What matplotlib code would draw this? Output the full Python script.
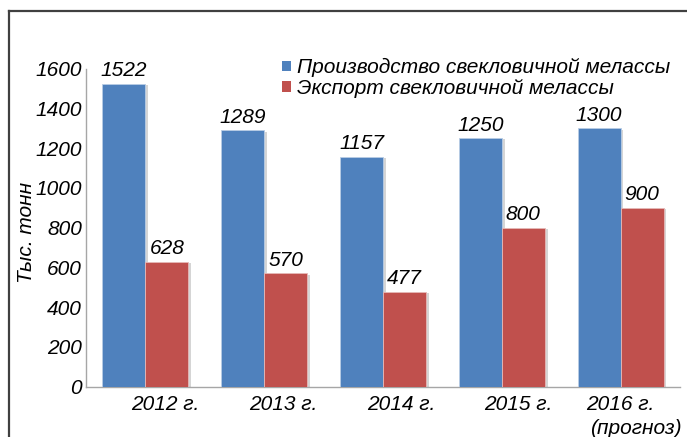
import matplotlib
matplotlib.use('Agg')
import matplotlib.pyplot as plt
import matplotlib.patheffects as pe
from matplotlib.lines import Line2D
from matplotlib.patches import Patch
import numpy as np

plt.rcParams['font.family'] = ['Liberation Sans', 'DejaVu Sans']
plt.rcParams['font.style'] = 'italic'

# data
years = ['2012 г.', '2013 г.', '2014 г.', '2015 г.', '2016 г.']
production = [1522, 1289, 1157, 1250, 1300]
export = [628, 570, 477, 800, 900]
series_names = ['Производство свекловичной мелассы',
                'Экспорт свекловичной мелассы']
y_ticks = [0, 200, 400, 600, 800, 1000, 1200, 1400, 1600]

blue = '#4F81BD'
red = '#C0504D'
fs = 15

fig = plt.figure(figsize=(6.87, 4.37), dpi=100)
ax = fig.add_axes([86 / 687, 1 - 386.7 / 437, 594 / 687, 318.2 / 437])

x = np.arange(len(years))
w = 0.362
shadow = [pe.SimplePatchShadow(offset=(2, -1), shadow_rgbFace='#888888',
                               alpha=0.35), pe.Normal()]
b1 = ax.bar(x - w / 2, production, w, color=blue, edgecolor='#B9CDE5',
            linewidth=0.6, path_effects=shadow, zorder=3)
b2 = ax.bar(x + w / 2, export, w, color=red, edgecolor='#E6B9B8',
            linewidth=0.6, path_effects=shadow, zorder=3)

for xi, v in zip(x - w / 2, production):
    ax.text(xi, v + 18, str(v), ha='center', va='bottom', fontsize=fs)
for xi, v in zip(x + w / 2, export):
    ax.text(xi, v + 18, str(v), ha='center', va='bottom', fontsize=fs)

ax.set_xlim(-0.5, len(years) - 0.5)
ax.set_ylim(0, 1600)
ax.set_yticks(y_ticks)
ax.set_yticklabels([str(t) for t in y_ticks], fontsize=fs)
ax.tick_params(axis='y', length=0, pad=3)
ax.set_xticks([])

for s in ['top', 'right']:
    ax.spines[s].set_visible(False)
for s in ['left', 'bottom']:
    ax.spines[s].set_color('#A6A6A6')
    ax.spines[s].set_linewidth(1)

# category labels, shifted like in the source picture
label_off = [0.17, 0.16, 0.15, 0.14, 0.0]
for xi, lab, off in zip(x, years, label_off):
    ax.text(xi + off, -88, lab, ha='center', va='center', fontsize=fs)
ax.text(4 + 0.13, -210, '(прогноз)', ha='center', va='center', fontsize=fs)

fig.text(27 / 687, 1 - 232 / 437, 'Тыс. тонн', rotation=90, ha='center',
         va='center', fontsize=fs)

handles = [Patch(facecolor=blue), Patch(facecolor=red)]
fig.legend(handles, series_names, loc='upper left',
           bbox_to_anchor=(274 / 687, 1 - 50 / 437), frameon=False,
           fontsize=fs, handlelength=0.42, handleheight=0.42,
           handletextpad=0.3, labelspacing=0.08, borderaxespad=0)

# outer frame (partly cut off at right and bottom)
fig.add_artist(Line2D([9 / 687, 9 / 687], [0, 1 - 10.7 / 437],
                      transform=fig.transFigure, color='#404040', lw=1.6))
fig.add_artist(Line2D([9 / 687, 1], [1 - 10.7 / 437, 1 - 10.7 / 437],
                      transform=fig.transFigure, color='#404040', lw=1.6))

fig.savefig('out.png', dpi=100)
